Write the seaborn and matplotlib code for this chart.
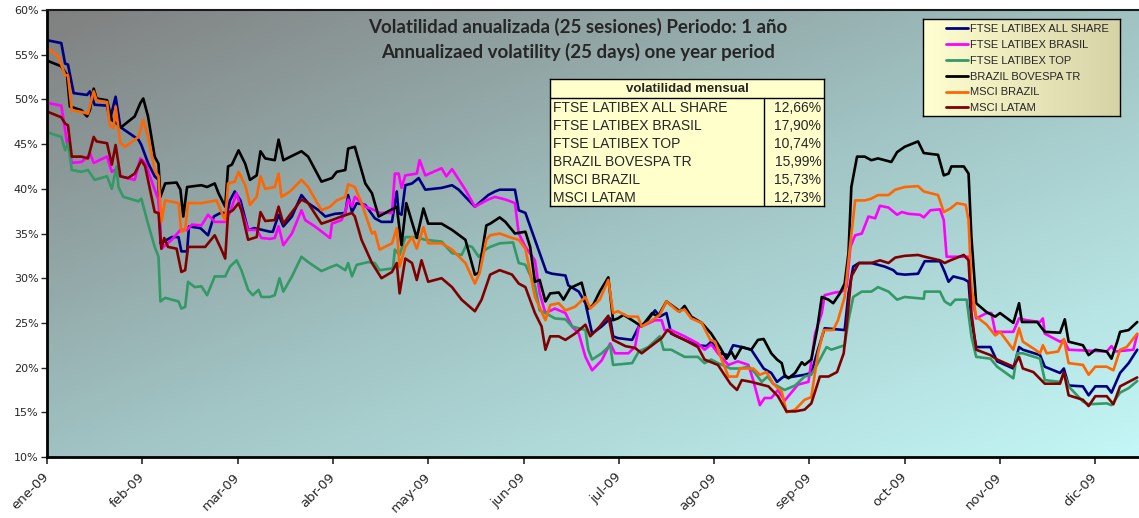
import numpy as np
import pandas as pd
import matplotlib
matplotlib.use("Agg")
import matplotlib.pyplot as plt
import seaborn as sns
from matplotlib.colors import LinearSegmentedColormap
from matplotlib.lines import Line2D
from matplotlib.ticker import FuncFormatter

# ---------------- data ----------------
series_names = ["FTSE LATIBEX ALL SHARE", "FTSE LATIBEX BRASIL", "FTSE LATIBEX TOP",
                "BRAZIL BOVESPA TR", "MSCI BRAZIL", "MSCI LATAM"]
series_colors = ["#000080", "#FF00FF", "#339966", "#000000", "#FF6600", "#800000"]
month_labels = ["ene-09", "feb-09", "mar-09", "abr-09", "may-09", "jun-09",
                "jul-09", "ago-09", "sep-09", "oct-09", "nov-09", "dic-09"]
monthly_vol = [12.66, 17.90, 10.74, 15.99, 15.73, 12.73]

# (month position, annualized volatility %)
all_share = [(0.01,56.6),(0.15,56.3),(0.19,54.0),(0.22,53.9),(0.28,50.7),(0.42,50.5),(0.45,50.9),(0.50,49.4),(0.63,49.3),(0.66,47.7),(0.72,50.3),(0.77,46.9),(0.96,45.5),(0.99,44.9),(1.06,42.9),(1.13,41.4),(1.17,41.0),(1.19,33.9),(1.31,34.6),(1.38,34.6),(1.41,33.0),(1.47,33.0),(1.49,35.8),(1.61,35.6),(1.69,34.8),(1.75,36.9),(1.82,37.3),(1.89,37.3),(1.92,38.7),(1.97,39.7),(2.03,38.7),(2.11,35.4),(2.18,35.6),(2.34,35.2),(2.37,35.2),(2.43,37.1),(2.48,35.8),(2.57,36.9),(2.67,39.3),(2.74,38.4),(2.85,37.6),(2.92,36.9),(3.02,37.2),(3.13,37.3),(3.16,39.3),(3.20,37.4),(3.25,38.4),(3.34,38.2),(3.44,36.7),(3.51,36.3),(3.62,36.3),(3.67,39.7),(3.69,37.3),(3.72,37.1),(3.76,40.4),(3.83,40.6),(3.90,41.2),(3.97,39.9),(4.14,40.1),(4.25,40.4),(4.32,39.9),(4.39,39.1),(4.49,38.0),(4.63,39.3),(4.70,39.7),(4.75,39.9),(4.91,39.9),(4.95,37.6),(5.02,37.3),(5.12,34.3),(5.17,32.8),(5.24,30.7),(5.30,30.5),(5.44,30.3),(5.47,29.2),(5.58,28.5),(5.65,27.2),(5.72,23.8),(5.82,24.6),(5.91,25.5),(5.94,23.5),(5.99,23.3),(6.14,23.1),(6.21,24.6),(6.28,25.0),(6.38,26.4),(6.43,25.7),(6.50,26.1),(6.55,23.8),(6.69,23.1),(6.83,22.5),(6.92,22.4),(6.97,22.9),(7.06,21.6),(7.15,21.4),(7.20,22.5),(7.29,22.3),(7.39,22.0),(7.52,19.9),(7.60,19.4),(7.66,18.4),(7.73,19.0),(7.78,18.9),(7.95,19.2),(8.02,19.4),(8.09,22.0),(8.16,24.4),(8.37,24.2),(8.41,28.3),(8.46,31.3),(8.52,31.7),(8.65,31.7),(8.79,31.3),(8.88,30.9),(8.92,30.5),(9.00,30.4),(9.14,30.5),(9.21,31.9),(9.37,31.9),(9.42,30.7),(9.46,29.6),(9.51,30.2),(9.62,29.9),(9.67,29.6),(9.70,25.3),(9.75,22.3),(9.90,22.3),(9.97,20.7),(10.14,19.9),(10.20,22.3),(10.24,22.0),(10.42,21.4),(10.47,20.1),(10.63,19.4),(10.67,19.9),(10.72,18.0),(10.87,17.9),(10.93,16.9),(11.00,17.9),(11.12,17.9),(11.17,17.2),(11.26,19.4),(11.35,20.5),(11.44,22.0)]

brasil = [(0.01,49.6),(0.15,49.3),(0.19,46.6),(0.21,45.1),(0.22,45.5),(0.26,42.9),(0.36,43.0),(0.43,43.6),(0.45,44.0),(0.49,42.9),(0.63,43.6),(0.68,41.9),(0.71,42.1),(0.77,41.4),(0.92,41.0),(0.98,43.4),(1.03,42.9),(1.13,39.9),(1.17,38.8),(1.20,33.3),(1.31,34.3),(1.40,35.4),(1.47,35.4),(1.52,36.0),(1.62,35.9),(1.69,37.1),(1.76,36.3),(1.87,36.3),(1.92,37.4),(1.99,39.5),(2.04,37.6),(2.11,35.4),(2.20,35.4),(2.25,34.5),(2.34,34.4),(2.39,34.5),(2.43,35.8),(2.48,33.7),(2.57,35.0),(2.67,37.6),(2.71,36.5),(2.81,35.8),(2.97,34.5),(2.99,36.1),(3.09,36.5),(3.13,37.4),(3.16,38.8),(3.20,38.0),(3.23,39.1),(3.34,38.0),(3.44,37.6),(3.49,37.3),(3.62,37.3),(3.65,41.7),(3.69,41.7),(3.72,40.1),(3.76,41.5),(3.88,41.7),(3.91,43.2),(3.97,41.5),(4.14,42.3),(4.19,41.4),(4.25,42.2),(4.39,39.9),(4.49,38.0),(4.63,38.8),(4.70,39.1),(4.81,38.8),(4.91,38.4),(4.95,35.0),(5.02,33.5),(5.12,32.0),(5.17,28.3),(5.23,26.1),(5.33,26.6),(5.44,26.1),(5.51,24.6),(5.58,23.8),(5.65,21.2),(5.72,19.7),(5.82,20.8),(5.91,22.7),(5.96,21.6),(6.10,21.6),(6.17,22.3),(6.21,24.6),(6.28,24.8),(6.38,25.3),(6.45,25.3),(6.48,24.2),(6.55,24.2),(6.69,23.5),(6.83,22.7),(6.90,22.0),(6.97,22.6),(7.04,21.6),(7.15,20.3),(7.25,20.7),(7.36,20.3),(7.41,18.6),(7.48,15.8),(7.53,16.6),(7.60,16.6),(7.67,17.5),(7.74,16.3),(7.81,17.2),(7.88,18.1),(7.99,18.4),(8.06,23.8),(8.13,26.1),(8.16,28.1),(8.27,28.4),(8.34,28.5),(8.39,29.0),(8.43,33.5),(8.48,34.8),(8.55,35.0),(8.62,36.9),(8.69,36.7),(8.74,38.1),(8.83,37.9),(8.92,37.1),(8.97,37.4),(9.04,37.2),(9.16,37.1),(9.20,36.8),(9.27,37.6),(9.37,37.7),(9.41,36.5),(9.44,32.4),(9.67,32.4),(9.70,28.3),(9.75,25.5),(9.86,26.1),(9.91,26.1),(9.95,24.0),(10.14,24.0),(10.20,25.5),(10.28,25.3),(10.42,25.1),(10.45,25.5),(10.47,23.8),(10.63,22.9),(10.67,23.1),(10.72,22.0),(11.12,21.8),(11.17,22.4),(11.21,21.8),(11.40,22.0),(11.44,23.7)]

top = [(0.01,46.3),(0.15,45.8),(0.19,44.3),(0.22,45.1),(0.26,42.1),(0.36,41.9),(0.43,42.1),(0.50,41.0),(0.63,41.4),(0.68,40.0),(0.73,42.5),(0.75,40.2),(0.80,39.1),(0.96,38.6),(0.99,38.9),(1.06,36.1),(1.13,33.5),(1.17,32.4),(1.19,27.4),(1.24,27.8),(1.38,27.4),(1.41,26.6),(1.45,26.8),(1.48,29.6),(1.55,29.0),(1.62,29.1),(1.68,28.1),(1.76,30.2),(1.87,30.2),(1.92,31.3),(1.99,32.0),(2.04,30.9),(2.11,28.7),(2.16,28.1),(2.22,28.7),(2.25,27.9),(2.34,27.9),(2.39,28.1),(2.44,30.0),(2.48,28.5),(2.57,30.2),(2.67,32.4),(2.74,31.8),(2.88,30.8),(2.99,31.3),(3.04,31.5),(3.13,30.9),(3.16,31.7),(3.20,30.2),(3.25,31.5),(3.37,31.8),(3.44,31.7),(3.49,30.9),(3.63,31.1),(3.65,33.2),(3.70,32.6),(3.76,34.6),(3.86,34.6),(3.97,34.3),(4.14,34.1),(4.25,32.8),(4.35,32.6),(4.40,33.7),(4.46,33.5),(4.53,32.4),(4.60,33.2),(4.65,33.5),(4.75,33.9),(4.89,34.0),(4.95,31.7),(5.02,31.5),(5.12,29.2),(5.17,26.4),(5.23,26.1),(5.33,25.5),(5.44,25.4),(5.51,24.6),(5.65,24.2),(5.68,22.0),(5.72,20.9),(5.82,21.6),(5.91,22.5),(5.94,20.3),(6.14,20.5),(6.21,21.8),(6.31,22.3),(6.43,23.5),(6.47,22.0),(6.55,22.0),(6.69,21.2),(6.83,21.2),(6.90,20.5),(6.97,20.9),(7.04,20.5),(7.17,19.9),(7.27,19.9),(7.36,20.1),(7.43,19.4),(7.50,18.4),(7.56,19.0),(7.62,18.2),(7.67,17.9),(7.74,17.5),(7.85,18.0),(7.95,19.0),(8.02,19.2),(8.11,20.9),(8.18,22.3),(8.23,22.0),(8.37,22.5),(8.41,25.3),(8.46,27.9),(8.55,28.5),(8.65,28.5),(8.72,29.0),(8.83,28.5),(8.92,27.6),(9.00,27.9),(9.20,27.7),(9.21,28.5),(9.37,28.5),(9.42,27.4),(9.48,27.0),(9.53,27.6),(9.65,27.6),(9.70,23.5),(9.75,21.2),(9.90,21.0),(9.97,20.1),(10.14,18.8),(10.18,21.6),(10.24,21.6),(10.42,21.0),(10.47,18.6),(10.63,18.4),(10.67,19.4),(10.72,17.9),(10.87,16.2),(10.93,15.9),(11.12,16.0),(11.17,15.8),(11.26,17.2),(11.35,17.7),(11.44,18.5)]

bovespa = [(0.01,54.3),(0.15,53.7),(0.21,52.7),(0.24,49.2),(0.36,48.8),(0.42,48.1),(0.45,48.8),(0.49,51.2),(0.52,50.1),(0.63,49.9),(0.68,47.7),(0.78,46.9),(0.92,48.1),(0.98,49.6),(1.01,50.1),(1.06,48.1),(1.13,43.6),(1.17,42.8),(1.19,39.1),(1.24,40.6),(1.36,40.7),(1.40,39.9),(1.43,36.9),(1.47,40.2),(1.62,40.4),(1.68,40.2),(1.76,40.6),(1.80,39.5),(1.87,38.0),(1.90,42.5),(1.94,42.7),(2.01,44.3),(2.08,42.8),(2.13,41.0),(2.20,41.5),(2.24,44.2),(2.29,43.4),(2.39,43.2),(2.43,45.5),(2.48,43.2),(2.67,44.2),(2.74,43.6),(2.88,40.8),(2.99,41.2),(3.04,41.9),(3.13,42.1),(3.16,44.5),(3.23,44.7),(3.34,40.6),(3.41,39.5),(3.48,36.9),(3.55,37.3),(3.67,38.0),(3.72,33.7),(3.77,38.4),(3.88,34.5),(3.95,37.8),(4.00,36.1),(4.14,36.1),(4.25,35.4),(4.39,34.3),(4.49,30.4),(4.53,30.6),(4.61,35.9),(4.65,36.1),(4.75,36.8),(4.81,36.3),(4.91,35.0),(5.02,35.2),(5.07,33.5),(5.12,29.6),(5.17,29.8),(5.23,27.4),(5.28,28.3),(5.37,28.4),(5.42,27.6),(5.49,28.9),(5.61,29.5),(5.68,26.6),(5.73,27.0),(5.80,28.5),(5.89,30.1),(5.94,25.3),(5.99,25.5),(6.05,25.9),(6.14,25.3),(6.24,24.6),(6.35,26.1),(6.41,25.7),(6.50,27.4),(6.55,27.0),(6.64,26.3),(6.69,26.9),(6.76,25.7),(6.87,25.0),(6.97,23.8),(7.06,22.3),(7.13,21.0),(7.18,21.8),(7.22,21.0),(7.29,22.3),(7.39,22.0),(7.46,23.1),(7.52,23.2),(7.60,21.6),(7.66,20.9),(7.71,20.5),(7.74,19.2),(7.78,18.8),(7.85,19.4),(7.92,20.6),(7.95,20.3),(8.02,20.9),(8.08,24.2),(8.13,27.9),(8.20,27.6),(8.25,27.2),(8.32,28.3),(8.37,29.4),(8.41,32.8),(8.44,40.2),(8.50,43.6),(8.58,43.6),(8.65,43.2),(8.72,43.4),(8.86,43.0),(8.92,44.1),(9.00,44.7),(9.14,45.3),(9.20,44.0),(9.35,43.8),(9.41,41.5),(9.46,41.7),(9.49,42.5),(9.62,42.5),(9.67,41.7),(9.70,34.6),(9.75,27.2),(9.86,26.2),(9.95,25.7),(10.00,26.1),(10.14,25.0),(10.20,27.2),(10.23,25.1),(10.39,25.1),(10.47,24.0),(10.63,23.9),(10.68,25.4),(10.72,22.9),(10.87,22.5),(10.93,21.4),(11.00,22.0),(11.12,21.8),(11.17,21.0),(11.23,22.9),(11.26,24.0),(11.35,24.2),(11.44,25.1)]

msci_brazil = [(0.01,55.7),(0.12,54.8),(0.19,52.7),(0.22,52.7),(0.26,48.8),(0.36,48.6),(0.43,48.4),(0.49,50.9),(0.52,49.9),(0.63,49.7),(0.66,47.1),(0.70,46.8),(0.72,49.2),(0.77,45.1),(0.82,44.7),(0.96,45.8),(1.01,47.7),(1.06,45.8),(1.13,42.1),(1.17,41.4),(1.20,36.3),(1.24,38.7),(1.38,38.4),(1.41,35.2),(1.45,35.4),(1.48,38.4),(1.62,38.4),(1.73,38.6),(1.78,38.7),(1.83,37.4),(1.87,36.5),(1.90,40.6),(1.97,40.8),(2.01,41.9),(2.08,40.4),(2.13,38.2),(2.20,39.1),(2.24,41.4),(2.29,40.0),(2.39,40.2),(2.43,41.7),(2.46,39.1),(2.55,39.7),(2.67,41.0),(2.74,40.2),(2.88,37.6),(2.97,38.0),(3.04,38.7),(3.13,39.1),(3.16,40.5),(3.23,40.2),(3.30,38.4),(3.41,35.0),(3.44,35.2),(3.49,33.2),(3.62,33.9),(3.67,35.6),(3.70,31.3),(3.76,33.5),(3.83,34.6),(3.88,33.3),(3.95,35.7),(4.00,33.9),(4.14,33.9),(4.25,33.2),(4.39,31.7),(4.49,29.4),(4.54,30.6),(4.61,34.3),(4.65,34.8),(4.75,35.0),(4.88,34.5),(4.95,34.3),(5.02,33.3),(5.12,27.9),(5.23,25.3),(5.28,27.0),(5.37,27.2),(5.44,26.4),(5.54,26.8),(5.65,27.9),(5.70,26.6),(5.80,27.6),(5.89,29.8),(5.94,26.1),(5.99,26.3),(6.10,25.7),(6.20,25.7),(6.24,24.6),(6.35,25.3),(6.43,25.9),(6.50,27.4),(6.62,26.3),(6.69,26.5),(6.76,25.5),(6.87,25.0),(6.96,23.1),(7.01,22.9),(7.08,20.9),(7.15,19.0),(7.24,19.0),(7.27,19.9),(7.41,19.9),(7.48,19.2),(7.55,19.5),(7.62,18.2),(7.71,17.3),(7.76,15.0),(7.85,15.3),(7.95,16.4),(8.02,16.7),(8.09,21.6),(8.15,24.2),(8.25,24.2),(8.30,25.3),(8.37,27.9),(8.43,33.9),(8.48,38.7),(8.58,38.7),(8.65,38.9),(8.72,39.3),(8.83,39.3),(8.90,39.9),(9.00,40.2),(9.14,40.3),(9.20,39.7),(9.35,39.3),(9.41,37.4),(9.48,37.8),(9.55,38.4),(9.64,38.2),(9.67,36.5),(9.70,29.0),(9.75,25.7),(9.86,24.8),(9.95,23.6),(10.00,24.0),(10.14,22.0),(10.20,24.4),(10.24,22.9),(10.37,22.0),(10.42,21.6),(10.45,22.5),(10.49,21.6),(10.61,21.8),(10.67,23.2),(10.72,20.5),(10.87,20.3),(10.93,19.2),(11.00,20.1),(11.12,20.1),(11.19,19.7),(11.26,22.0),(11.33,22.3),(11.44,23.8)]

msci_latam = [(0.01,48.6),(0.15,48.0),(0.19,47.3),(0.22,47.1),(0.26,43.6),(0.36,43.6),(0.43,43.4),(0.49,45.8),(0.52,45.3),(0.63,45.1),(0.68,42.7),(0.72,44.9),(0.77,41.4),(0.85,41.2),(0.92,41.7),(0.99,43.2),(1.03,42.5),(1.13,37.4),(1.17,37.3),(1.20,33.3),(1.23,34.5),(1.27,33.5),(1.36,33.3),(1.41,30.7),(1.45,30.9),(1.48,33.5),(1.66,33.5),(1.76,34.8),(1.83,33.2),(1.87,32.2),(1.90,37.3),(1.95,37.6),(2.01,38.4),(2.04,37.6),(2.11,34.3),(2.20,34.6),(2.24,37.4),(2.29,36.4),(2.39,36.5),(2.43,38.0),(2.48,36.1),(2.67,38.8),(2.74,38.4),(2.88,36.1),(2.99,36.5),(3.09,36.9),(3.20,37.3),(3.23,36.9),(3.30,34.3),(3.41,31.7),(3.51,30.0),(3.62,30.7),(3.67,31.7),(3.70,28.3),(3.76,32.2),(3.83,31.7),(3.88,29.8),(3.93,32.0),(4.00,29.6),(4.14,30.0),(4.25,29.0),(4.35,27.6),(4.49,26.3),(4.56,27.6),(4.63,29.8),(4.65,30.4),(4.75,30.9),(4.88,30.4),(4.95,29.4),(5.02,29.0),(5.12,26.1),(5.19,24.6),(5.23,22.0),(5.28,23.5),(5.37,23.5),(5.44,23.1),(5.54,23.8),(5.65,24.8),(5.70,23.5),(5.80,24.6),(5.89,25.8),(5.94,23.1),(6.07,22.4),(6.17,22.2),(6.24,21.6),(6.35,22.5),(6.45,23.3),(6.51,24.2),(6.59,23.6),(6.69,23.1),(6.83,22.3),(6.90,20.9),(7.04,20.3),(7.17,18.2),(7.24,17.5),(7.29,18.6),(7.39,18.4),(7.46,18.2),(7.57,17.9),(7.67,16.8),(7.76,15.1),(7.85,15.1),(7.95,15.3),(8.02,16.0),(8.11,19.0),(8.20,19.0),(8.29,19.5),(8.36,21.6),(8.39,24.6),(8.44,30.2),(8.52,31.7),(8.65,31.7),(8.74,32.0),(8.83,31.7),(8.90,32.3),(9.00,32.5),(9.14,32.6),(9.21,32.4),(9.37,32.0),(9.42,31.7),(9.48,32.0),(9.62,32.6),(9.67,32.0),(9.70,26.1),(9.75,22.0),(9.90,21.4),(9.97,20.9),(10.14,20.1),(10.20,21.2),(10.24,19.9),(10.35,19.5),(10.47,18.2),(10.63,18.2),(10.67,19.5),(10.72,16.9),(10.87,16.4),(10.93,15.7),(11.00,16.8),(11.12,16.8),(11.19,15.9),(11.26,17.9),(11.35,18.4),(11.44,18.9)]

all_series = [all_share, brasil, top, bovespa, msci_brazil, msci_latam]

frames = []
for name, pts in zip(series_names, all_series):
    arr = np.array(pts)
    frames.append(pd.DataFrame({"mes": arr[:, 0], "vol": arr[:, 1], "serie": name}))
df = pd.concat(frames, ignore_index=True)

# ---------------- figure ----------------
sns.set_style("white")
plt.rcParams["font.family"] = ["DejaVu Sans"]

W, H = 1139, 518
fig = plt.figure(figsize=(W / 100, H / 100), dpi=100)
fig.patch.set_facecolor("white")
ax = fig.add_axes([47 / W, 61 / H, 1092 / W, 447 / H])
xmax = 1092 / 95.3

# gradient background (gray top-left -> pale cyan bottom-right)
ny, nx = 200, 400
yy, xx = np.mgrid[0:1:ny * 1j, 0:1:nx * 1j]
t = 0.5 * xx + 0.5 * yy
bg_cmap = LinearSegmentedColormap.from_list("bg", ["#808080", "#a0c2c2", "#c4f7f7"])
ax.imshow(t, cmap=bg_cmap, extent=[0, xmax, 10, 60], aspect="auto",
          origin="upper", zorder=0, interpolation="bilinear")

sns.lineplot(data=df, x="mes", y="vol", hue="serie", hue_order=series_names,
             palette=dict(zip(series_names, series_colors)), estimator=None,
             sort=False, linewidth=1.9, legend=False, ax=ax, zorder=2)

ax.set_xlim(0, xmax)
ax.set_ylim(10, 60)
ax.set_xlabel("")
ax.set_ylabel("")
ax.set_yticks(range(10, 61, 5))
ax.yaxis.set_major_formatter(FuncFormatter(lambda v, p: f"{v:.0f}%"))
ax.set_xticks(range(len(month_labels)))
ax.set_xticklabels(month_labels, rotation=45, ha="right", va="center",
                   rotation_mode="anchor")
ax.tick_params(axis="y", labelsize=8, length=4, width=1, direction="out", pad=2, left=True)
ax.tick_params(axis="x", labelsize=9.5, length=5, width=1.2, direction="out", pad=8, bottom=True)
for s in ["left", "bottom"]:
    ax.spines[s].set_color("black")
    ax.spines[s].set_linewidth(2)
ax.spines["top"].set_color("#1a1a1a")
ax.spines["top"].set_linewidth(1.5)
ax.spines["right"].set_visible(False)
ax.grid(False)

# title
fig.text(578 / W, 1 - 27 / H, "Volatilidad anualizada (25 sesiones) Periodo: 1 año",
         ha="center", va="center", fontsize=13.5, fontweight="bold", family="Lato")
fig.text(578 / W, 1 - 52 / H, "Annualizaed volatility (25 days) one year period",
         ha="center", va="center", fontsize=13.5, fontweight="bold", family="Lato")

# legend box
lax = fig.add_axes([923 / W, (H - 116) / H, 197 / W, 97 / H])
lg = np.linspace(0, 1, 200).reshape(1, -1)
lax.imshow(lg, cmap=LinearSegmentedColormap.from_list("lg", ["#FFFFD2", "#D6D3A6"]),
           extent=[0, 1, 0, 1], aspect="auto")
lax.set_xlim(0, 1)
lax.set_ylim(0, 1)
lax.set_xticks([])
lax.set_yticks([])
for s in lax.spines.values():
    s.set_color("black")
    s.set_linewidth(1)
handles = [Line2D([0], [0], color=c, lw=2) for c in series_colors]
lax.legend(handles, series_names, loc="upper left", bbox_to_anchor=(0.115, 0.945),
           frameon=False, prop={"family": "Liberation Sans", "size": 8},
           handlelength=2.0, handletextpad=0.15, labelspacing=0.52,
           borderpad=0, borderaxespad=0)

# monthly volatility table
tax = fig.add_axes([550 / W, (H - 206) / H, 274 / W, 127 / H])
tax.set_facecolor("#FFFFCC")
tax.set_xlim(0, 1)
tax.set_ylim(0, 1)
tax.set_xticks([])
tax.set_yticks([])
for s in tax.spines.values():
    s.set_color("black")
    s.set_linewidth(1)
hdr_y = (206 - 98) / 127
col_x = (764 - 550) / 274
tax.axhline(hdr_y, color="black", lw=1)
tax.plot([col_x, col_x], [0, hdr_y], color="black", lw=1)
tax.text(0.5, (206 - 89) / 127, "volatilidad mensual", ha="center", va="center",
         fontsize=9.5, fontweight="bold", family="Liberation Sans")
for i, (name, v) in enumerate(zip(series_names, monthly_vol)):
    yc = (206 - (108 + 18 * i)) / 127
    tax.text(0.012, yc, name, ha="left", va="center", fontsize=10, family="Liberation Sans")
    tax.text(0.99, yc, f"{v:.2f}%".replace(".", ","), ha="right", va="center",
             fontsize=10, family="Liberation Sans")

fig.savefig("out.png", dpi=100)
